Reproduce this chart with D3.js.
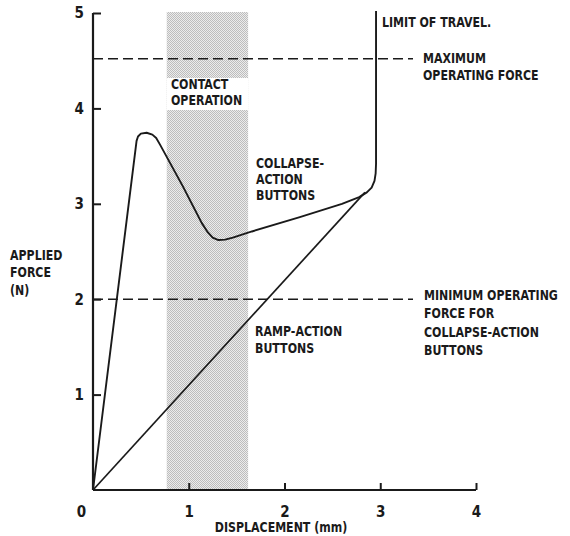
<!DOCTYPE html>
<html>
<head>
<meta charset="utf-8">
<script src="https://cdn.jsdelivr.net/npm/d3@7"></script>
<style>
  html, body { margin: 0; padding: 0; background: #fff; }
  svg text { font-family: "Liberation Sans Narrow", "DejaVu Sans Condensed", "Arial Narrow", sans-serif; font-weight: bold; fill: #1a1a1a; }
</style>
</head>
<body>
<svg id="chart" width="570" height="536"></svg>
<script>
// ---- data (displacement mm, applied force N) ----
const collapseAction = [
  [0, 0], [0.455, 3.66], [0.47, 3.705], [0.50, 3.735], [0.56, 3.745], [0.62, 3.725],
  [0.66, 3.69], [0.70, 3.62], [0.94, 3.18], [1.135, 2.80], [1.20, 2.70], [1.25, 2.645],
  [1.31, 2.62], [1.38, 2.625], [1.46, 2.645], [1.66, 2.71], [2.16, 2.86], [2.60, 3.00],
  [2.78, 3.07], [2.86, 3.12], [2.91, 3.17], [2.94, 3.24], [2.952, 3.32], [2.956, 3.42],
  [2.956, 5.02]
];
const rampAction = [[0, 0], [2.84, 3.12]];
const contactBand = [0.77, 1.62];
const maxOperatingForce = 4.52;
const minOperatingForce = 2.0;
const xTicks = [0, 1, 2, 3, 4];
const yTicks = [1, 2, 3, 4, 5];

const svg = d3.select("#chart");
const x = d3.scaleLinear().domain([0, 4]).range([93, 476]);
const y = d3.scaleLinear().domain([0, 5]).range([490, 13]);
const ink = "#1a1a1a";

// ---- shaded contact-operation band ----
const defs = svg.append("defs");
const pat = defs.append("pattern").attr("id", "dots")
  .attr("patternUnits", "userSpaceOnUse").attr("width", 2).attr("height", 2);
pat.append("rect").attr("width", 2).attr("height", 2).attr("fill", "#ececec");
pat.append("rect").attr("width", 1).attr("height", 1).attr("fill", "#bdbdbd");
pat.append("rect").attr("x", 1).attr("y", 1).attr("width", 1).attr("height", 1).attr("fill", "#bdbdbd");

svg.append("rect")
  .attr("x", x(contactBand[0])).attr("width", x(contactBand[1]) - x(contactBand[0]))
  .attr("y", y(5.0) - 1).attr("height", y(0) - y(5.0) + 1)
  .attr("fill", "url(#dots)");
// white label box inside band
svg.append("rect")
  .attr("x", x(contactBand[0])).attr("width", x(contactBand[1]) - x(contactBand[0]))
  .attr("y", 78).attr("height", 32).attr("fill", "#fff");

// ---- dashed reference lines ----
[maxOperatingForce, minOperatingForce].forEach(v => {
  svg.append("line")
    .attr("x1", x(0)).attr("x2", 413)
    .attr("y1", y(v)).attr("y2", y(v))
    .attr("stroke", ink).attr("stroke-width", 1.6)
    .attr("stroke-dasharray", "10,5");
});

// ---- axes ----
const xAxis = d3.axisBottom(x).tickValues(xTicks).tickSize(-7).tickPadding(16)
  .tickFormat(d3.format("d"));
const gx = svg.append("g").attr("transform", `translate(0,${y(0)})`).call(xAxis);
gx.select(".domain").attr("stroke", ink).attr("stroke-width", 2.2).attr("d", `M${x(0)},0H${x(4)}`);
gx.selectAll(".tick line").attr("stroke", ink).attr("stroke-width", 2);
gx.selectAll(".tick").filter(d => d === 0).select("line").remove();
gx.selectAll(".tick").filter(d => d === 0).select("text").attr("dx", -12);
gx.selectAll(".tick text").attr("font-size", 15).style("font-family", null);

const yAxis = d3.axisLeft(y).tickValues(yTicks).tickSize(-8).tickPadding(9)
  .tickFormat(d3.format("d"));
const gy = svg.append("g").attr("transform", `translate(${x(0)},0)`).call(yAxis);
gy.select(".domain").attr("stroke", ink).attr("stroke-width", 2.2).attr("d", `M0,${y(5)}V${y(0)}`);
gy.selectAll(".tick line").attr("stroke", ink).attr("stroke-width", 2);
gy.selectAll(".tick text").attr("font-size", 15).style("font-family", null);
gx.attr("font-family", null); gy.attr("font-family", null);

// ---- curves ----
const line = d3.line().x(d => x(d[0])).y(d => y(d[1]));
svg.append("path").datum(collapseAction).attr("d", line)
  .attr("fill", "none").attr("stroke", ink).attr("stroke-width", 1.9).attr("stroke-linejoin", "round");
svg.append("path").datum(rampAction).attr("d", line)
  .attr("fill", "none").attr("stroke", ink).attr("stroke-width", 1.7);

// ---- labels (condensed lettering) ----
const SX = 0.845;
function label(lines, px, py, lh, anchor) {
  const g = svg.append("g").attr("transform", `translate(${px},${py}) scale(${SX},1)`);
  const t = g.append("text").attr("font-size", 14.5).attr("text-anchor", anchor || "start");
  lines.forEach((s, i) => t.append("tspan").attr("x", 0).attr("y", i * lh).text(s));
}
label(["LIMIT OF TRAVEL."], 382, 27, 17);
label(["MAXIMUM", "OPERATING FORCE"], 423, 63, 17);
label(["MINIMUM OPERATING", "FORCE FOR", "COLLAPSE-ACTION", "BUTTONS"], 424, 300, 18.3);
label(["CONTACT", "OPERATION"], 171, 89, 16.5);
label(["COLLAPSE-", "ACTION", "BUTTONS"], 256, 168, 15.8);
label(["RAMP-ACTION", "BUTTONS"], 255, 336, 17);
label(["APPLIED", "FORCE", "(N)"], 10, 260, 17.5);
label(["DISPLACEMENT (mm)"], 281, 532, 0, "middle");
</script>
</body>
</html>
